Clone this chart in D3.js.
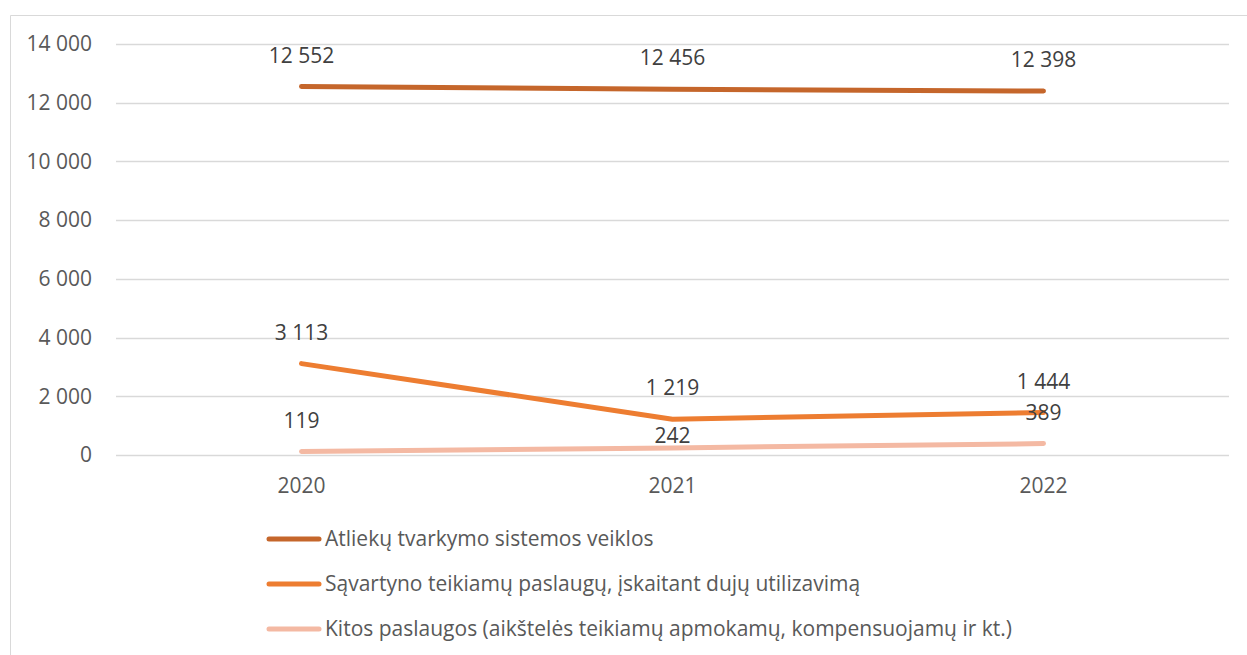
<!DOCTYPE html>
<html>
<head>
<meta charset="utf-8">
<script src="https://cdn.jsdelivr.net/npm/d3@7"></script>
<style>
  body { margin: 0; background: #fff; }
  svg { font-family: "Open Sans", sans-serif; }
</style>
</head>
<body>
<div id="chart"></div>
<script>
"use strict";

// data
const years = ["2020", "2021", "2022"];
const seriesNames = [
    "Atliekų tvarkymo sistemos veiklos",
    "Sąvartyno teikiamų paslaugų, įskaitant dujų utilizavimą",
    "Kitos paslaugos (aikštelės teikiamų apmokamų, kompensuojamų ir kt.)"
];
const sistemosVeiklos = [12552, 12456, 12398];
const savartynoPaslaugos = [3113, 1219, 1444];
const kitosPaslaugos = [119, 242, 389];
const yTicks = [0, 2000, 4000, 6000, 8000, 10000, 12000, 14000];

const colors = ["#C5662B", "#ED7D31", "#F4B9A3"];
const allSeries = [sistemosVeiklos, savartynoPaslaugos, kitosPaslaugos];

const width = 1247, height = 655;
const margin = { left: 116, right: 18, top: 44, bottom: 200 };
const fontSize = "21px";

const svg = d3.select("#chart").append("svg")
    .attr("width", width)
    .attr("height", height);

// chart frame (only top and left visible in the crop)
svg.append("path")
    .attr("d", `M10.5,${height} V15.5 H${width}`)
    .attr("fill", "none")
    .attr("stroke", "#d9d9d9")
    .attr("stroke-width", 1);

const x = d3.scaleBand().domain(years).range([margin.left, width - margin.right]);
const y = d3.scaleLinear().domain([0, 14000]).range([455, margin.top]);

const fmt = v => d3.format(",")(v).replace(/,/g, " ");

// gridlines
svg.append("g")
    .selectAll("line")
    .data(yTicks)
    .join("line")
    .attr("x1", margin.left)
    .attr("x2", width - margin.right)
    .attr("y1", d => Math.round(y(d)) + 0.5)
    .attr("y2", d => Math.round(y(d)) + 0.5)
    .attr("stroke", "#d9d9d9")
    .attr("stroke-width", 1.5);

// y axis labels
const yAxis = d3.axisLeft(y).tickValues(yTicks).tickFormat(fmt).tickSize(0).tickPadding(0);
svg.append("g")
    .attr("transform", `translate(${margin.left - 24},0)`)
    .call(yAxis)
    .call(g => g.select(".domain").remove())
    .selectAll("text")
    .attr("fill", "#595959")
    .style("font-size", fontSize)
    .style("font-family", "'Open Sans', sans-serif");

// x axis labels
const xAxis = d3.axisBottom(x).tickSize(0).tickPadding(0);
svg.append("g")
    .attr("transform", `translate(0,478)`)
    .call(xAxis)
    .call(g => g.select(".domain").remove())
    .selectAll("text")
    .attr("fill", "#595959")
    .style("font-size", fontSize)
    .style("font-family", "'Open Sans', sans-serif");

const line = d3.line()
    .x((d, i) => x(years[i]) + x.bandwidth() / 2)
    .y(d => y(d));

// draw lower series first so the darker ones sit on top
[2, 1, 0].forEach(s => {
    svg.append("path")
        .datum(allSeries[s])
        .attr("d", line)
        .attr("fill", "none")
        .attr("stroke", colors[s])
        .attr("stroke-width", 5)
        .attr("stroke-linecap", "round")
        .attr("stroke-linejoin", "round");
});

// data labels, above each point (the 2021 "kitos" label sits lower in the original)
const labelLift = [[24, 24, 24], [24, 24, 24], [24, 5, 24]];
allSeries.forEach((vals, s) => {
    svg.append("g")
        .selectAll("text")
        .data(vals)
        .join("text")
        .attr("x", (d, i) => x(years[i]) + x.bandwidth() / 2)
        .attr("y", (d, i) => y(d) - labelLift[s][i])
        .attr("text-anchor", "middle")
        .attr("fill", "#404040")
        .style("font-size", fontSize)
        .text(fmt);
});

// legend
const legend = svg.append("g");
const legendY = [539, 584, 629];
seriesNames.forEach((name, i) => {
    legend.append("line")
        .attr("x1", 269).attr("x2", 319)
        .attr("y1", legendY[i]).attr("y2", legendY[i])
        .attr("stroke", colors[i])
        .attr("stroke-width", 5)
        .attr("stroke-linecap", "round");
    legend.append("text")
        .attr("x", 325)
        .attr("y", legendY[i])
        .attr("dy", "0.35em")
        .attr("fill", "#595959")
        .style("font-size", fontSize)
        .text(name);
});
</script>
</body>
</html>
